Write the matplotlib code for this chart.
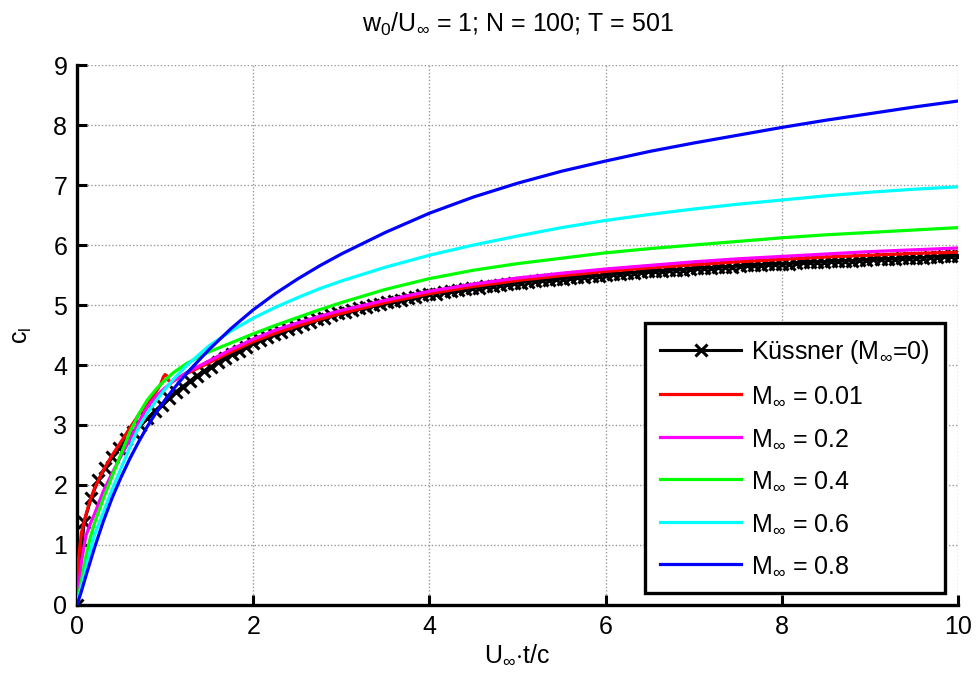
import numpy as np
import matplotlib
matplotlib.use("Agg")
import matplotlib.pyplot as plt

plt.rcParams["font.family"] = ["Liberation Sans", "DejaVu Sans"]
plt.rcParams["mathtext.fontset"] = "custom"
plt.rcParams["mathtext.rm"] = "Liberation Sans"
plt.rcParams["mathtext.it"] = "Liberation Sans"
plt.rcParams["mathtext.bf"] = "Liberation Sans:bold"

# Kuessner reference response, sampled every 0.08 chord lengths
kussner_t = np.round(np.arange(126) * 0.08, 2)
kussner_cl = [
    0.00, 1.38, 1.78, 2.08, 2.28, 2.46, 2.62, 2.76, 2.89, 3.00,
    3.11, 3.23, 3.34, 3.45, 3.55, 3.64, 3.73, 3.82, 3.90, 3.97,
    4.05, 4.11, 4.18, 4.24, 4.30, 4.36, 4.41, 4.46, 4.51, 4.55,
    4.60, 4.64, 4.68, 4.72, 4.76, 4.79, 4.83, 4.86, 4.89, 4.92,
    4.95, 4.97, 5.00, 5.02, 5.05, 5.07, 5.09, 5.12, 5.14, 5.16,
    5.18, 5.19, 5.21, 5.23, 5.25, 5.26, 5.28, 5.29, 5.31, 5.32,
    5.34, 5.35, 5.36, 5.37, 5.39, 5.40, 5.41, 5.42, 5.43, 5.44,
    5.45, 5.46, 5.47, 5.48, 5.49, 5.50, 5.51, 5.52, 5.53, 5.54,
    5.55, 5.56, 5.56, 5.57, 5.58, 5.59, 5.59, 5.60, 5.61, 5.62,
    5.62, 5.63, 5.64, 5.64, 5.65, 5.66, 5.66, 5.67, 5.68, 5.68,
    5.69, 5.69, 5.70, 5.71, 5.71, 5.72, 5.72, 5.73, 5.73, 5.74,
    5.74, 5.75, 5.75, 5.76, 5.76, 5.77, 5.77, 5.78, 5.78, 5.79,
    5.79, 5.80, 5.80, 5.81, 5.81, 5.82,
]

# Time samples of the compressible solutions
t_main = [0, 0.02, 0.05, 0.1, 0.15, 0.2, 0.3, 0.4, 0.5, 0.6, 0.7, 0.8, 0.9,
          1.0, 1.1, 1.25, 1.5, 1.75, 2.0, 2.25, 2.5, 2.75, 3.0, 3.5, 4.0,
          4.5, 5.0, 5.5, 6.0, 6.5, 7.0, 7.5, 8.0, 8.5, 9.0, 9.5, 10.0]
t_m001 = [0, 0.005, 0.01, 0.02, 0.05, 0.1, 0.15, 0.2, 0.3, 0.4, 0.5, 0.6,
          0.7, 0.8, 0.9, 0.95, 0.98, 1.0, 1.02, 1.04, 1.07, 1.1, 1.25, 1.5,
          1.75, 2.0, 2.25, 2.5, 2.75, 3.0, 3.5, 4.0, 4.5, 5.0, 5.5, 6.0, 6.5,
          7.0, 7.5, 8.0, 8.5, 9.0, 9.5, 10.0]

cl_m001 = [0, 0.35, 0.55, 0.8, 1.2, 1.5, 1.75, 1.95, 2.25, 2.5, 2.72, 2.95,
           3.17, 3.37, 3.56, 3.68, 3.8, 3.84, 3.82, 3.74, 3.72, 3.74, 3.86,
           4.04, 4.22, 4.39, 4.53, 4.65, 4.76, 4.86, 5.04, 5.19, 5.31, 5.41,
           5.49, 5.56, 5.62, 5.67, 5.72, 5.76, 5.8, 5.83, 5.86, 5.88]
cl_m02 = [0, 0.3, 0.72, 1.15, 1.35, 1.52, 1.9, 2.2, 2.48, 2.76, 3.05, 3.3,
          3.48, 3.62, 3.74, 3.88, 4.07, 4.26, 4.43, 4.58, 4.7, 4.81, 4.91,
          5.08, 5.23, 5.35, 5.45, 5.53, 5.6, 5.66, 5.72, 5.77, 5.81, 5.85,
          5.89, 5.92, 5.95]
cl_m04 = [0, 0.17, 0.4, 0.8, 1.12, 1.37, 1.78, 2.15, 2.52, 2.88, 3.18, 3.42,
          3.6, 3.75, 3.88, 4.03, 4.22, 4.37, 4.52, 4.66, 4.79, 4.92, 5.04,
          5.26, 5.44, 5.58, 5.69, 5.78, 5.87, 5.94, 6.0, 6.06, 6.12, 6.17,
          6.21, 6.25, 6.29]
cl_m06 = [0, 0.12, 0.3, 0.6, 0.9, 1.17, 1.55, 1.93, 2.28, 2.63, 2.96, 3.2,
          3.41, 3.6, 3.77, 4.0, 4.32, 4.57, 4.78, 4.96, 5.12, 5.27, 5.4,
          5.63, 5.83, 6.0, 6.15, 6.29, 6.41, 6.51, 6.6, 6.68, 6.75, 6.82,
          6.88, 6.93, 6.97]
cl_m08 = [0, 0.09, 0.23, 0.48, 0.72, 0.96, 1.40, 1.79, 2.13, 2.44, 2.72,
          2.98, 3.21, 3.42, 3.61, 3.87, 4.26, 4.61, 4.92, 5.19, 5.43, 5.65,
          5.85, 6.21, 6.53, 6.8, 7.03, 7.23, 7.4, 7.56, 7.7, 7.83, 7.96,
          8.08, 8.19, 8.3, 8.4]

labels = [r"Küssner (M$_{\infty}$=0)", r"M$_{\infty}$ = 0.01",
          r"M$_{\infty}$ = 0.2", r"M$_{\infty}$ = 0.4",
          r"M$_{\infty}$ = 0.6", r"M$_{\infty}$ = 0.8"]
colors = ["#000000", "#ff0000", "#ff00ff", "#00ff00", "#00ffff", "#0000ff"]

FS = 18

fig = plt.figure(figsize=(9.76, 6.86), dpi=100)
ax = fig.add_axes([0.0789, 0.1181, 0.9027, 0.7871])

ax.plot(kussner_t, kussner_cl, color=colors[0], lw=2.2, marker="x",
        ms=8, mew=2.2, label=labels[0], zorder=2)
series = [(t_m001, cl_m001), (t_main, cl_m02), (t_main, cl_m04),
          (t_main, cl_m06), (t_main, cl_m08)]
for (tt, cc), lab, col in zip(series, labels[1:], colors[1:]):
    ax.plot(tt, cc, color=col, lw=2.3, label=lab, zorder=3)

ax.set_xlim(0, 10)
ax.set_ylim(0, 9)
ax.set_xticks([0, 2, 4, 6, 8, 10])
ax.set_yticks(range(10))
ax.grid(True, color="#999999", linestyle=(0, (1, 1.5)), linewidth=1.0)
ax.set_axisbelow(True)
for s in ("top", "right"):
    ax.spines[s].set_visible(False)
for s in ("left", "bottom"):
    ax.spines[s].set_linewidth(2.4)
ax.tick_params(direction="in", length=7, width=2.2, labelsize=FS, pad=7)

ax.set_title(r"w$_0$/U$_{\infty}$ = 1; N = 100; T = 501", fontsize=FS, pad=24)
ax.set_xlabel(r"U$_{\infty}$$\cdot$t/c", fontsize=FS, labelpad=3)
ax.set_ylabel(r"c$_\mathrm{l}$", fontsize=FS, labelpad=14)

leg = ax.legend(loc="lower right", bbox_to_anchor=(0.985, 0.022),
                fontsize=FS, frameon=True, fancybox=False, handlelength=3.25,
                handletextpad=0.4, labelspacing=0.74, borderpad=0.6,
                borderaxespad=0)
leg.get_frame().set_edgecolor("black")
leg.get_frame().set_linewidth(2.4)
leg.get_frame().set_alpha(1)

fig.savefig("out.png", dpi=100)
